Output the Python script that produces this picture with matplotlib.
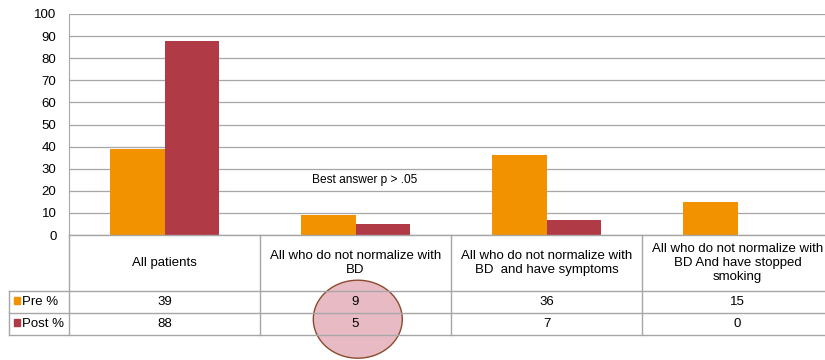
import matplotlib
matplotlib.use("Agg")
import matplotlib.pyplot as plt
from matplotlib.patches import Ellipse, Rectangle
import numpy as np

plt.rcParams['font.family'] = ['Liberation Sans', 'DejaVu Sans']

categories = ["All patients",
              "All who do not normalize with\nBD",
              "All who do not normalize with\nBD  and have symptoms",
              "All who do not normalize with\nBD And have stopped\nsmoking"]
series_names = ["Pre %", "Post %"]
pre_values = [39, 9, 36, 15]
post_values = [88, 5, 7, 0]
yticks = list(range(0, 101, 10))
annotation = "Best answer p > .05"

c_pre = "#F39200"
c_post = "#B13A47"
grid_c = "#A6A6A6"
FS = 9.5

W, H = 825, 360
fig = plt.figure(figsize=(W / 100, H / 100), dpi=100)

left, right = 69, 833
top, base = 14, 235
ax = fig.add_axes([left / W, 1 - base / H, (right - left) / W, (base - top) / H])
x = np.arange(len(categories))
bw = 0.286
ax.bar(x - bw / 2, pre_values, bw, color=c_pre, zorder=3)
ax.bar(x + bw / 2, post_values, bw, color=c_post, zorder=3)
ax.set_xlim(-0.5, len(categories) - 0.5)
ax.set_ylim(0, 100)
ax.set_yticks(yticks)
ax.set_yticklabels([str(t) for t in yticks], fontsize=FS)
ax.set_xticks([])
ax.yaxis.grid(True, color=grid_c, linewidth=0.9, zorder=0)
ax.tick_params(axis='y', length=0, pad=9)
for s in ["top", "right", "bottom"]:
    ax.spines[s].set_visible(False)
ax.spines["left"].set_color(grid_c)
ax.text(1.05, 25, annotation, ha="center", va="center", fontsize=8.6)

# table
tb_bottom = 335
ax_t = fig.add_axes([left / W, 1 - tb_bottom / H, (right - left) / W, (tb_bottom - base) / H])
ax_t.set_xlim(-0.5, len(categories) - 0.5)
ax_t.set_ylim(tb_bottom - base, 0)
ax_t.axis("off")
col_px = (right - left) / len(categories)
lab_left = -0.5 - (left - 9) / col_px
hdr, r1, r2 = 56, 78, 100
lw = 1.0
for i in range(len(categories) + 1):
    ax_t.plot([i - 0.5, i - 0.5], [0, r2], color=grid_c, lw=lw, clip_on=False, zorder=5)
ax_t.plot([-0.5, len(categories) - 0.5], [0, 0], color=grid_c, lw=lw, clip_on=False, zorder=5)
for yy in [hdr, r1, r2]:
    ax_t.plot([lab_left, len(categories) - 0.5], [yy, yy], color=grid_c, lw=lw, clip_on=False, zorder=5)
ax_t.plot([lab_left, lab_left], [hdr, r2], color=grid_c, lw=lw, clip_on=False, zorder=5)

for i, c in enumerate(categories):
    ax_t.text(i, hdr / 2, c, ha="center", va="center", fontsize=FS,
              linespacing=1.25, zorder=6)
    ax_t.text(i, (hdr + r1) / 2, str(pre_values[i]), ha="center", va="center", fontsize=FS, zorder=6)
    ax_t.text(i, (r1 + r2) / 2, str(post_values[i]), ha="center", va="center", fontsize=FS, zorder=6)

for name, col, y0, y1 in [(series_names[0], c_pre, hdr, r1), (series_names[1], c_post, r1, r2)]:
    ym = (y0 + y1) / 2
    sq = 6.5
    ax_t.add_patch(Rectangle((lab_left + 4.5 / col_px, ym - sq / 2 - 1.5), sq / col_px, sq,
                             color=col, clip_on=False, zorder=6))
    ax_t.text(lab_left + 13.5 / col_px, ym, name, ha="left", va="center", fontsize=FS, zorder=6)

ell = Ellipse((357.8 / W, 1 - 319.2 / H), 89 / W, 78 / H, transform=fig.transFigure,
              facecolor="#E8BAC4", edgecolor="#8B4A2E", linewidth=1.0, zorder=4, clip_on=False)
ax_t.add_patch(ell)

fig.savefig("out.png", dpi=100)
